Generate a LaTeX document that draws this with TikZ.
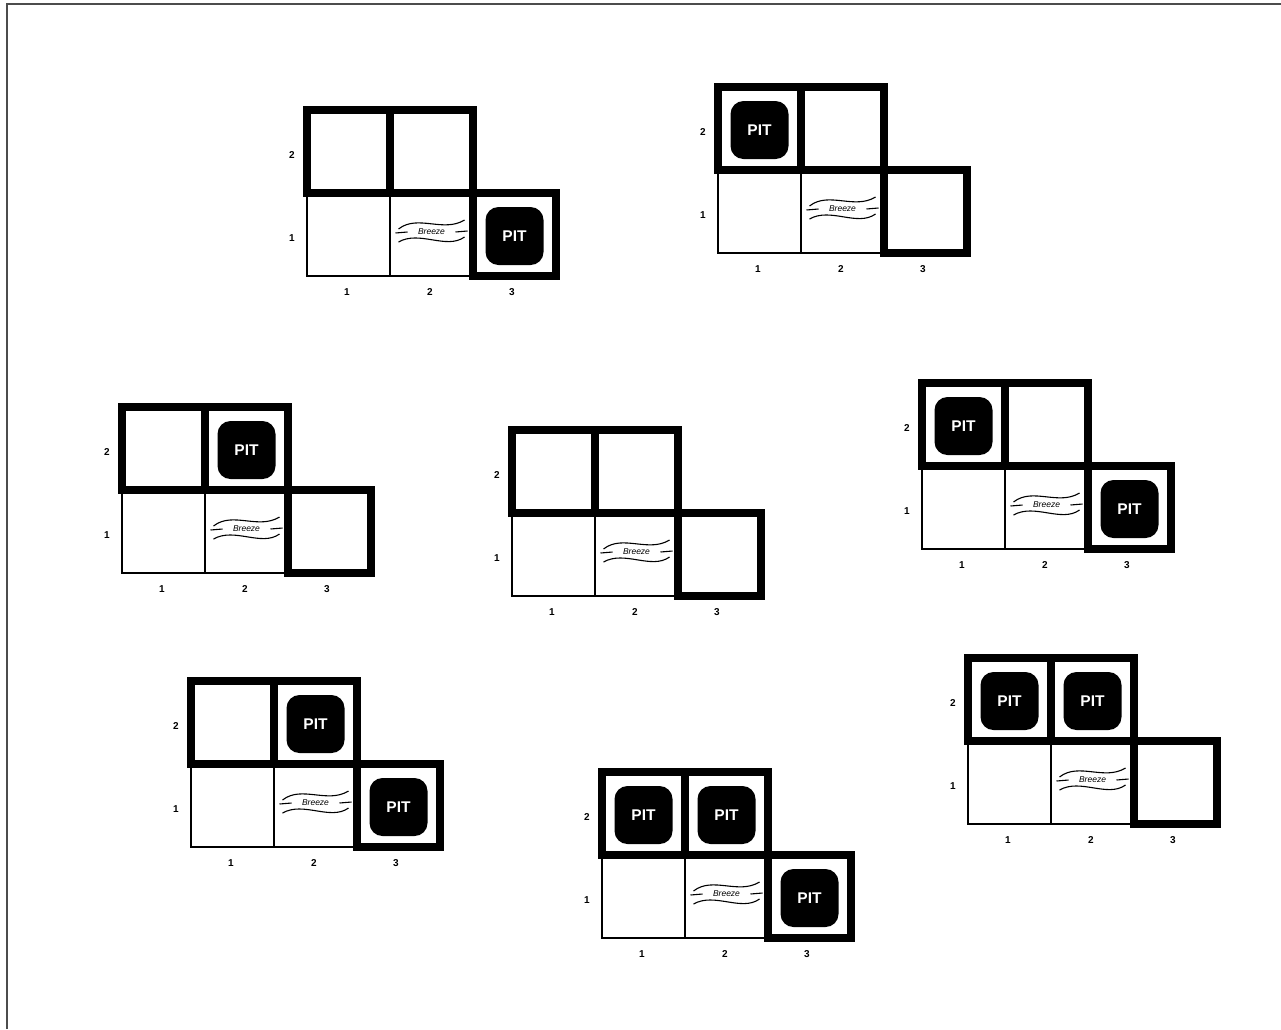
\documentclass[tikz,border=0pt]{standalone}
\usepackage{fontspec}
\setmainfont{Liberation Sans}
\tikzset{
  thincell/.style={draw=black,line width=2pt},
  thickcell/.style={draw=black,line width=8.5pt},
  pitbox/.style={fill=black,rounded corners=13pt,minimum size=58pt,inner sep=0pt,text=white,font=\fontsize{15.5}{15.5}\selectfont\bfseries},
  axislabel/.style={inner sep=0pt,font=\fontsize{10}{10}\selectfont\bfseries},
  breezetext/.style={inner sep=0pt,font=\fontsize{8.5}{8.5}\selectfont\itshape},
  wave/.style={draw=black,line width=1.1pt},
}
\newcommand\wgrid[3]{%
  \begin{scope}[shift={(#2,#3)}]
    \draw[thincell] (0,83) rectangle (83,166);
    \draw[thincell] (83,83) rectangle (166,166);
    \draw[thickcell] (0,0) rectangle (83,83);
    \draw[thickcell] (83,0) rectangle (166,83);
    \draw[thickcell] (166,83) rectangle (249,166);
    \node[axislabel] (#1r2) at (-15,45) {2};
    \node[axislabel] (#1r1) at (-15,128) {1};
    \node[axislabel] (#1c1) at (40,182) {1};
    \node[axislabel] (#1c2) at (123,182) {2};
    \node[axislabel] (#1c3) at (205,182) {3};
    \begin{scope}[shift={(124.5,122)}]
      \node[breezetext] (#1bz) at (0,0) {Breeze};
      \draw[wave] (-33,-3) .. controls (-14,-18) and (12,1) .. (33,-12);
      \draw[wave] (-33,10) .. controls (-12,-2) and (15,18) .. (33,5);
      \draw[wave] (-36,1) -- (-24,0);
      \draw[wave] (24,0) -- (36,-1);
    \end{scope}
  \end{scope}}
\newcommand\pitat[5]{%
  \node[pitbox] (#1p#4#5) at ({#2+#4*83-41.5},{#3+(2-#5)*83+43}) {\raisebox{-2pt}{PIT}};}
\begin{document}
\begin{tikzpicture}[x=1pt,y=-1pt]
\useasboundingbox (0,0) rectangle (1281,1029);
\draw[line width=2.5pt,draw=black!70] (7,1029) -- (7,4) -- (1281,4);
% grid 1
\wgrid{ga}{307}{110}
\pitat{ga}{307}{110}{3}{1}
% grid 2
\wgrid{gb}{718}{87}
\pitat{gb}{718}{87}{1}{2}
% grid 3
\wgrid{gc}{122}{407}
\pitat{gc}{122}{407}{2}{2}
% grid 4
\wgrid{gd}{512}{430}
% grid 5
\wgrid{ge}{922}{383}
\pitat{ge}{922}{383}{1}{2}
\pitat{ge}{922}{383}{3}{1}
% grid 6
\wgrid{gf}{191}{681}
\pitat{gf}{191}{681}{2}{2}
\pitat{gf}{191}{681}{3}{1}
% grid 7
\wgrid{gg}{602}{772}
\pitat{gg}{602}{772}{1}{2}
\pitat{gg}{602}{772}{2}{2}
\pitat{gg}{602}{772}{3}{1}
% grid 8
\wgrid{gh}{968}{658}
\pitat{gh}{968}{658}{1}{2}
\pitat{gh}{968}{658}{2}{2}
\end{tikzpicture}
\end{document}
